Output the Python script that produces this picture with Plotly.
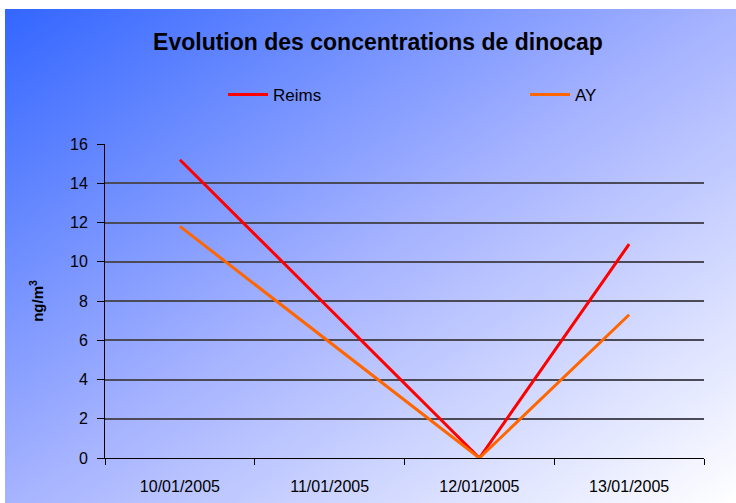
import base64
import plotly.graph_objects as go

dates = ["10/01/2005", "11/01/2005", "12/01/2005", "13/01/2005"]
reims = [15.2, None, 0, 10.9]
ay = [11.8, None, 0, 7.3]

W, H = 736, 503
ml, mr, mt, mb = 105, 32, 144, 45
pw, ph = W - ml - mr, H - mt - mb

# diagonal blue -> white background, drawn as an svg image
svg = (
    '<svg xmlns="http://www.w3.org/2000/svg" width="100" height="100" preserveAspectRatio="none" viewBox="0 0 100 100">'
    '<defs><linearGradient id="g" x1="0" y1="0" x2="1" y2="1">'
    '<stop offset="0" stop-color="#3366FF"/><stop offset="0.5" stop-color="#A6B3FF"/>'
    '<stop offset="1" stop-color="#FFFFFF"/>'
    '</linearGradient></defs><rect width="100" height="100" fill="url(#g)"/></svg>'
)
bg_src = "data:image/svg+xml;base64," + base64.b64encode(svg.encode()).decode()
bg_left, bg_top = 5, 9


def px_x(p):
    return (p - ml) / pw


def px_y(p):
    return (H - mb - p) / ph


fig = go.Figure()
fig.add_trace(go.Scatter(x=dates, y=reims, name="Reims", mode="lines", legend="legend",
                         connectgaps=True, line=dict(color="#FF0000", width=3)))
fig.add_trace(go.Scatter(x=dates, y=ay, name="AY", mode="lines", legend="legend2",
                         connectgaps=True, line=dict(color="#FF6600", width=3)))

leg = dict(xanchor="left", yanchor="middle", itemwidth=40,
           font=dict(size=17), bgcolor="rgba(0,0,0,0)")

fig.update_layout(
    width=W, height=H,
    margin=dict(l=ml, r=mr, t=mt, b=mb),
    paper_bgcolor="white",
    plot_bgcolor="rgba(0,0,0,0)",
    font=dict(family="Arial, Liberation Sans, sans-serif", color="black", size=16),
    title=dict(text="<b>Evolution des concentrations de dinocap</b>",
               x=378 / W, xanchor="center", y=1 - 42 / H, yanchor="middle",
               font=dict(size=23)),
    showlegend=True,
    legend=dict(x=px_x(223), y=px_y(95), **leg),
    legend2=dict(x=px_x(525), y=px_y(95), **leg),
    images=[dict(source=bg_src, xref="paper", yref="paper",
                 x=px_x(bg_left), y=px_y(bg_top),
                 sizex=(W - bg_left) / pw, sizey=(H - bg_top) / ph,
                 xanchor="left", yanchor="top", sizing="stretch", layer="below")],
)

fig.update_xaxes(type="category", tickson="boundaries", ticks="outside", ticklen=6,
                 tickcolor="black", showline=True, linecolor="black", linewidth=1,
                 ticklabelstandoff=14, automargin=False,
                 showgrid=False, range=[-0.5, 3.5], tickfont=dict(size=16))
fig.update_yaxes(range=[0, 16], dtick=2, ticks="outside", ticklen=7, tickcolor="black",
                 ticklabelstandoff=6, automargin=False,
                 showline=True, linecolor="black", linewidth=1,
                 showgrid=True, gridcolor="#4a4a58", gridwidth=1.5, zeroline=False,
                 tickfont=dict(size=16),
                 title=dict(text="<b>ng/m<sup>3</sup></b>", font=dict(size=15), standoff=22))

fig.write_html("out.html", config={"displayModeBar": False},
               post_script="document.body.style.margin='0';")
